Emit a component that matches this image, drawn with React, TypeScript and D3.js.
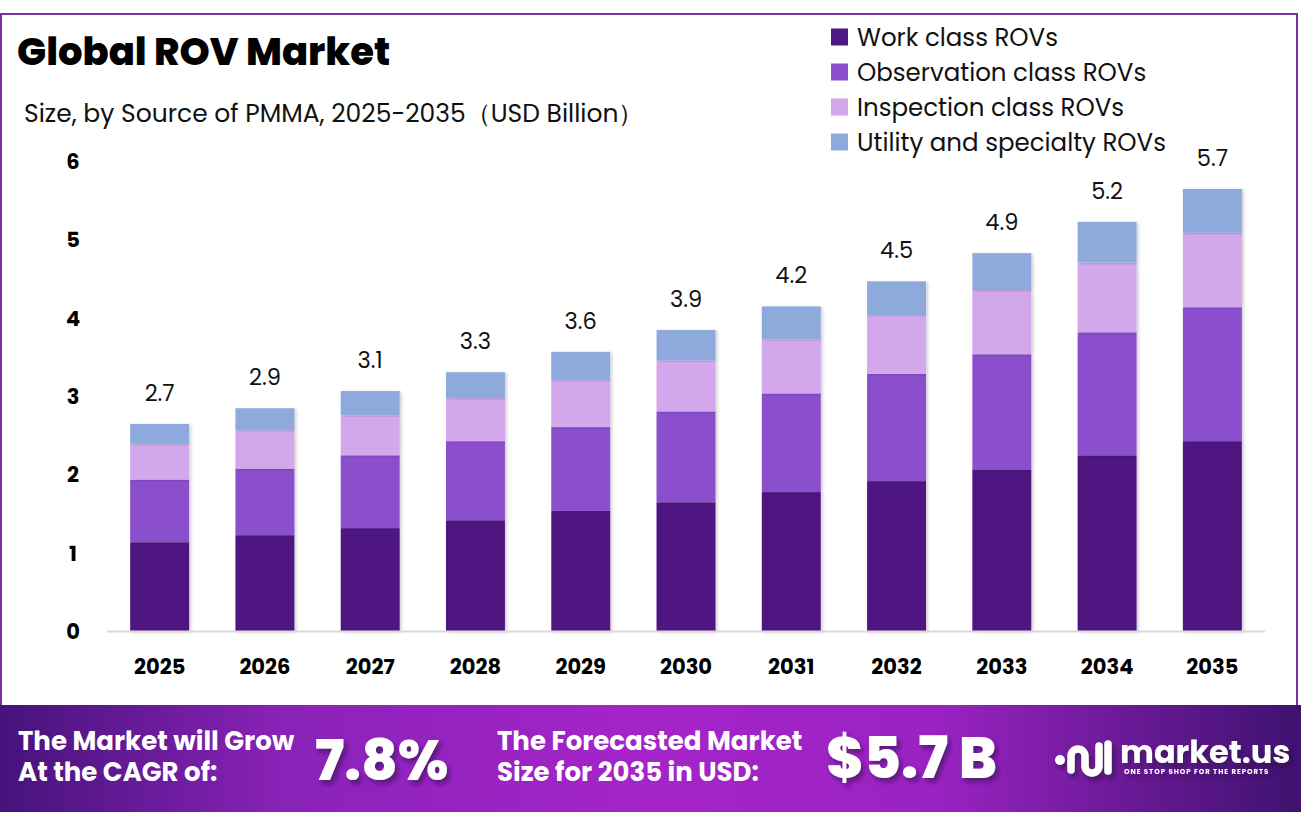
import React from 'react'
import * as d3 from 'd3'

// Chart data
const years = ['2025', '2026', '2027', '2028', '2029', '2030', '2031', '2032', '2033', '2034', '2035']
const workClass = [1.14, 1.23, 1.32, 1.42, 1.54, 1.65, 1.78, 1.92, 2.07, 2.25, 2.43]
const observationClass = [0.8, 0.85, 0.93, 1.01, 1.07, 1.16, 1.26, 1.37, 1.47, 1.57, 1.71]
const inspectionClass = [0.45, 0.49, 0.51, 0.55, 0.6, 0.65, 0.69, 0.75, 0.82, 0.89, 0.95]
const utilityClass = [0.26, 0.28, 0.31, 0.33, 0.36, 0.39, 0.42, 0.43, 0.47, 0.52, 0.56]
const totalLabels = ['2.7', '2.9', '3.1', '3.3', '3.6', '3.9', '4.2', '4.5', '4.9', '5.2', '5.7']
const seriesNames = ['Work class ROVs', 'Observation class ROVs', 'Inspection class ROVs', 'Utility and specialty ROVs']
const seriesKeys = ['work', 'observation', 'inspection', 'utility']
const yTicks = [0, 1, 2, 3, 4, 5, 6]

const colors = ['#4f1782', '#8b4fcd', '#d3a7eb', '#8ea9dc']
const font = "Poppins, 'Open Sans', 'Noto Sans', sans-serif"

export default function App() {
  const W = 1301
  const H = 831

  const rows = years.map((year, i) => ({
    year,
    work: workClass[i],
    observation: observationClass[i],
    inspection: inspectionClass[i],
    utility: utilityClass[i],
  }))

  const stack = d3.stack<any>().keys(seriesKeys)
  const layers = stack(rows)

  const x = d3.scaleBand()
    .domain(years)
    .range([107, 1265])
    .paddingInner(0.44)
    .paddingOuter(0.22)

  const y = d3.scaleLinear()
    .domain([0, 6])
    .range([631.5, 161.5])

  const totals = rows.map(r => r.work + r.observation + r.inspection + r.utility)

  return (
    <svg
      width={W}
      height={H}
      viewBox={`0 0 ${W} ${H}`}
      style={{ position: 'absolute', left: 0, top: 0, background: '#fff' }}
      fontFamily={font}
    >
      <defs>
        <linearGradient id="banner" x1="0" x2="1" y1="0" y2="0">
          <stop offset="0" stopColor="#45137a" />
          <stop offset="0.22" stopColor="#8a22b8" />
          <stop offset="0.5" stopColor="#a524c9" />
          <stop offset="0.72" stopColor="#9a22c2" />
          <stop offset="1" stopColor="#3e126f" />
        </linearGradient>
        <filter id="txtShadow" x="-10%" y="-10%" width="130%" height="140%">
          <feDropShadow dx="3" dy="4" stdDeviation="2" floodColor="#2a0740" floodOpacity="0.55" />
        </filter>
        <filter id="barShadow" x="-10%" y="-5%" width="125%" height="110%">
          <feDropShadow dx="2" dy="1" stdDeviation="1.5" floodColor="#000" floodOpacity="0.18" />
        </filter>
      </defs>

      {/* frame */}
      <rect x={1} y={14} width={1296} height={700} fill="none" stroke="#7a2fa3" strokeWidth={2} />

      {/* title */}
      <text x={17} y={65} fontSize={38.5} fontWeight={800} fill="#000">Global ROV Market</text>
      <text x={24} y={122} fontSize={25} fill="#111">Size, by Source of PMMA, 2025-2035（USD Billion）</text>

      {/* legend */}
      {seriesNames.map((name, i) => (
        <g key={name} transform={`translate(831, ${37 + i * 35})`}>
          <rect x={0} y={-8.5} width={17} height={17} fill={colors[i]} />
          <text x={26} y={0} dy="0.35em" fontSize={24.5} fill="#111">{name}</text>
        </g>
      ))}

      {/* y tick labels */}
      {yTicks.map(t => (
        <text key={t} x={73} y={y(t)} dy="0.35em" textAnchor="middle" fontSize={21} fontWeight={700} fill="#000">
          {t}
        </text>
      ))}

      {/* bars */}
      {layers.map((layer, li) => (
        <g key={seriesKeys[li]} fill={colors[li]}>
          {layer.map((d, i) => (
            <rect
              key={years[i]}
              x={x(years[i])}
              y={y(d[1])}
              width={x.bandwidth()}
              height={y(d[0]) - y(d[1])}
              filter="url(#barShadow)"
            />
          ))}
        </g>
      ))}

      {/* axis line */}
      <line x1={107} x2={1265} y1={y(0)} y2={y(0)} stroke="#d9d9d9" strokeWidth={2} />

      {/* total labels */}
      {totals.map((t, i) => (
        <text
          key={years[i]}
          x={(x(years[i]) ?? 0) + x.bandwidth() / 2}
          y={y(t) - 23}
          textAnchor="middle"
          fontSize={22.5}
          fill="#111"
        >
          {totalLabels[i]}
        </text>
      ))}

      {/* x labels */}
      {years.map(yr => (
        <text
          key={yr}
          x={(x(yr) ?? 0) + x.bandwidth() / 2}
          y={667}
          dy="0.35em"
          textAnchor="middle"
          fontSize={21}
          fontWeight={700}
          fill="#000"
        >
          {yr}
        </text>
      ))}

      {/* banner */}
      <rect x={0} y={705} width={W} height={107} fill="url(#banner)" />
      <g fill="#fff" fontWeight={700}>
        <text x={18} y={750} fontSize={26}>The Market will Grow</text>
        <text x={18} y={781} fontSize={26}>At the CAGR of:</text>
        <text x={315} y={780} fontSize={56} fontWeight={800} filter="url(#txtShadow)">7.8%</text>
        <text x={497} y={750} fontSize={26}>The Forecasted Market</text>
        <text x={497} y={781} fontSize={26}>Size for 2035 in USD:</text>
        <text x={826} y={778} fontSize={57} fontWeight={800} filter="url(#txtShadow)">$5.7 B</text>
      </g>

      {/* logo */}
      <g filter="url(#txtShadow)">
        <circle cx={1060} cy={760} r={5} fill="#fff" />
        <path
          d="M1071,770 L1071,756 A7,7 0 0 1 1085,756 L1085,766 A7,7 0 0 0 1099,766 L1099,746 M1108,744 L1108,771"
          fill="none"
          stroke="#fff"
          strokeWidth={7.5}
          strokeLinecap="round"
        />
        <text x={1120} y={763} fontSize={32} fontWeight={700} fill="#fff">market.us</text>
        <text x={1124} y={774} fontSize={7} fontWeight={700} fill="#fff" letterSpacing={0.95}>ONE STOP SHOP FOR THE REPORTS</text>
      </g>
    </svg>
  )
}
